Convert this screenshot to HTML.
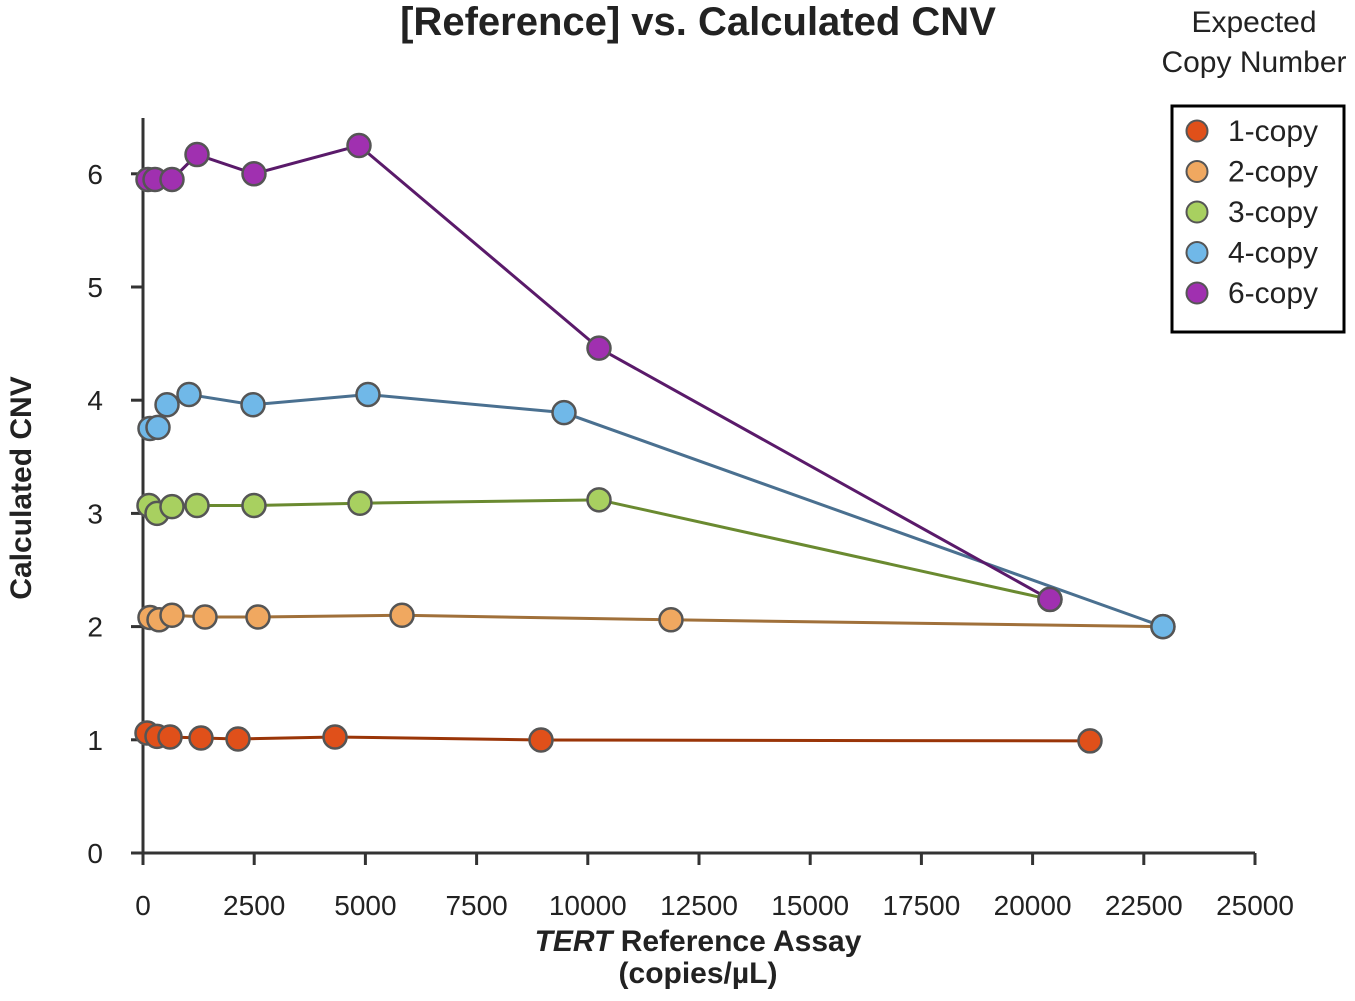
<!DOCTYPE html>
<html><head><meta charset="utf-8"><style>
body{margin:0;background:#fff}
svg text{font-family:"Liberation Sans",Arial,sans-serif}
</style></head><body>
<svg id="chart" width="1355" height="996" xmlns="http://www.w3.org/2000/svg">
<text x="698" y="35" text-anchor="middle" font-size="40" font-weight="bold" fill="#222">[Reference] vs. Calculated CNV</text>
<text x="1254" y="32" text-anchor="middle" font-size="30" fill="#222">Expected</text>
<text x="1254" y="72" text-anchor="middle" font-size="30" fill="#222">Copy Number</text>
<text transform="translate(31,488) rotate(-90)" text-anchor="middle" font-size="30" font-weight="bold" fill="#222">Calculated CNV</text>
<text x="698" y="951" text-anchor="middle" font-size="30" font-weight="bold" fill="#222"><tspan font-style="italic">TERT</tspan> Reference Assay</text>
<text x="698" y="983" text-anchor="middle" font-size="30" font-weight="bold" fill="#222">(copies/µL)</text>
<g id="axes"></g><g id="series"></g>
<rect x="1172" y="106" width="172" height="226" fill="#fff" stroke="#000" stroke-width="3"/>
<g id="legend"></g>
</svg>
<script>
const seriesNames=["1-copy","2-copy","3-copy","4-copy","6-copy"];
const xTicks=[0,2500,5000,7500,10000,12500,15000,17500,20000,22500,25000];
const yTicks=[0,1,2,3,4,5,6];
const x1=[90,315,607,1304,2136,4317,8948,21290];
const y1=[1.06,1.03,1.025,1.016,1.007,1.025,0.998,0.99];
const x2=[157,360,652,1394,2585,5823,11870,22930];
const y2=[2.08,2.06,2.10,2.085,2.085,2.10,2.06,2.0];
const x3=[135,315,652,1214,2495,4878,10252,20390];
const y3=[3.07,3.0,3.06,3.07,3.07,3.09,3.12,2.24];
const x4=[157,337,540,1034,2473,5058,9465,22930];
const y4=[3.75,3.76,3.96,4.05,3.96,4.05,3.89,2.0];
const x6=[112,270,652,1214,2495,4856,10252,20390];
const y6=[5.95,5.95,5.95,6.17,6.0,6.25,4.46,2.24];
const fills=["#e0501a","#f0a860","#a8d060","#70b8e8","#a030b0"];
const lines=["#9a3508","#a0703a","#6a8a30","#4a7090","#5a1a6a"];
const NS="http://www.w3.org/2000/svg";
const sx=v=>143+v*1112/25000, sy=v=>853-v*113.2;
function mk(t,a,p){const e=document.createElementNS(NS,t);for(const k in a)e.setAttribute(k,a[k]);p.appendChild(e);return e;}
const ax=document.getElementById('axes');
let l=mk('line',{x1:143,y1:853,x2:1255,y2:853,stroke:'#333','stroke-width':3},ax);


l=mk('line',{x1:143,y1:118,x2:143,y2:853,stroke:'#333','stroke-width':3},ax);


xTicks.forEach(v=>{mk('line',{x1:sx(v),y1:853,x2:sx(v),y2:865,stroke:'#333','stroke-width':3},ax);
 const t=mk('text',{x:sx(v),y:915,'text-anchor':'middle','font-size':28,fill:'#222'},ax);t.textContent=v;
 
 });
yTicks.forEach(v=>{mk('line',{x1:131,y1:sy(v),x2:143,y2:sy(v),stroke:'#333','stroke-width':3},ax);
 const t=mk('text',{x:103,y:sy(v)+10,'text-anchor':'end','font-size':28,fill:'#222'},ax);t.textContent=v;
 
 });
const sg=document.getElementById('series');
const data=[[x1,y1],[x2,y2],[x3,y3],[x4,y4],[x6,y6]];
const gs=data.map((d,i)=>{const g=mk('g',{},sg);
 
 
 const pl=mk('polyline',{points:d[0].map((x,j)=>sx(x)+','+sy(d[1][j])).join(' '),fill:'none',stroke:lines[i],'stroke-width':3},g);
 
 
 return g;});
data.forEach((d,i)=>{d[0].forEach((x,j)=>{const c=mk('circle',{cx:sx(x),cy:sy(d[1][j]),r:11.5,fill:fills[i],stroke:'#555','stroke-width':2.5},gs[i]);
 
 });});
const lg=document.getElementById('legend');
seriesNames.forEach((n,i)=>{const y=131+i*40.5;
 const c=mk('circle',{cx:1197,cy:y,r:10.5,fill:fills[i],stroke:'#555','stroke-width':2},lg);
 
 
 const t=mk('text',{x:1228,y:y+10,'font-size':30,fill:'#222'},lg);t.textContent=n;
 
 });
</script>
</body></html>
